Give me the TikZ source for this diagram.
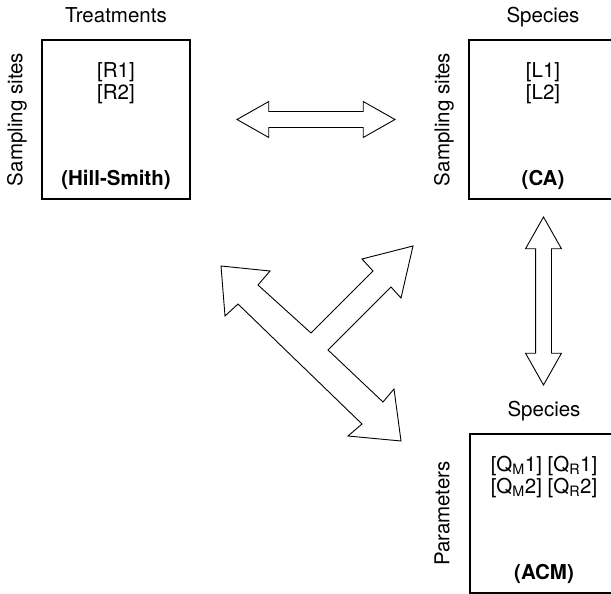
\documentclass[tikz,border=0pt]{standalone}
\usepackage{fontspec}
\setmainfont{TeX Gyre Heros}
\usetikzlibrary{positioning, shapes.arrows}

\begin{document}
\begin{tikzpicture}[x=1pt, y=-1pt, font=\fontsize{20.5}{22}\selectfont,
        table/.style={draw, line width=1.1pt, minimum width=148pt, minimum height=159pt, inner sep=0pt},
        lbl/.style={inner sep=0pt, anchor=base},
        side/.style={inner sep=0pt, anchor=base, rotate=90},
        dblarrow/.style={draw, line width=0.9pt, shape=double arrow, inner xsep=0pt, inner ysep=7.5pt,
            double arrow head extend=10pt, double arrow tip angle=59, minimum height=#1}]
        \clip (0,0) rectangle (611,594);

        % the three tables
        \node[table] (hs)  at (116,119.5) {};
        \node[table] (ca)  at (543,119.5) {};
        \node[table] (acm) at (544,513.5) {};

        % column and row names
        \node[lbl] (hsc) at ([yshift=17pt]hs.north) {Treatments};
        \node[lbl] (cac) at ([yshift=17pt]ca.north) {Species};
        \node[lbl] (acmc) at ([yshift=17pt]acm.north) {Species};
        \node[side] (hsr) at ([xshift=-19pt]hs.west) {Sampling sites};
        \node[side] (car) at ([xshift=-19pt]ca.west) {Sampling sites};
        \node[side] (acmr) at ([xshift=-20pt]acm.west) {Parameters};

        % contents
        \node[lbl] (r1) at ([yshift=-38pt]hs.north) {[R1]};
        \node[lbl] (r2) at ([yshift=-22pt]r1.base) {[R2]};
        \node[lbl] (l1) at ([yshift=-38pt]ca.north) {[L1]};
        \node[lbl] (l2) at ([yshift=-22pt]l1.base) {[L2]};
        \node[lbl] (q1) at ([yshift=-38pt]acm.north) {[Q\textsubscript{M}1] [Q\textsubscript{R}1]};
        \node[lbl] (q2) at ([yshift=-22pt]q1.base) {[Q\textsubscript{M}2] [Q\textsubscript{R}2]};
        \node[lbl, font=\fontsize{20.5}{22}\selectfont\bfseries] (hsn) at ([yshift=14pt]hs.south) {(Hill-Smith)};
        \node[lbl, font=\fontsize{20.5}{22}\selectfont\bfseries] (can) at ([yshift=14pt]ca.south) {(CA)};
        \node[lbl, font=\fontsize{20.5}{22}\selectfont\bfseries] (acmn) at ([yshift=14pt]acm.south) {(ACM)};

        % links
        \node[dblarrow=158pt] (hlink) at (316,119.5) {};
        \node[dblarrow=168pt, rotate=90] (vlink) at (543.5,301) {};
        \draw[line width=0.9pt]
            (221,266) -- (270,271) -- (258,285) -- (311,333) -- (373,271) -- (362,259)
            -- (413,246) -- (401,298) -- (391,287) -- (328,350) -- (383,402) -- (394,389)
            -- (401,441) -- (348,436) -- (362,424) -- (238,304) -- (225,316) -- cycle;

\end{tikzpicture}
\end{document}
